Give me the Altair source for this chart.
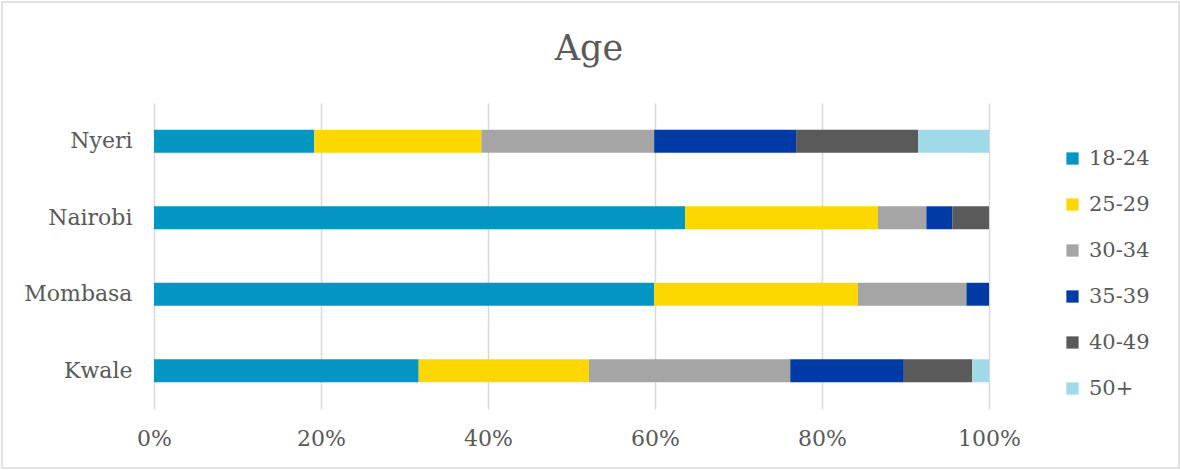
import altair as alt
import pandas as pd

regions = ["Nyeri", "Nairobi", "Mombasa", "Kwale"]
age_groups = ["18-24", "25-29", "30-34", "35-39", "40-49", "50+"]
colors = ["#0396C3", "#FDD800", "#A5A5A5", "#003AA5", "#5A5A5A", "#A0DAE8"]

nyeri = [19.2, 20.0, 20.7, 17.0, 14.6, 8.5]
nairobi = [63.6, 23.1, 5.8, 3.1, 4.4, 0.0]
mombasa = [59.9, 24.4, 13.0, 2.7, 0.0, 0.0]
kwale = [31.7, 20.4, 24.1, 13.6, 8.2, 2.0]

title_text = "Age"

series = {"Nyeri": nyeri, "Nairobi": nairobi, "Mombasa": mombasa, "Kwale": kwale}
rows = []
for r in regions:
    for i, (g, v) in enumerate(zip(age_groups, series[r])):
        rows.append({"region": r, "age": g, "value": v, "order": i})
df = pd.DataFrame(rows)

FONT = "DejaVu Serif"
TXT = "#595959"

bars = alt.Chart(df).mark_bar().encode(
    y=alt.Y("region:N", sort=regions, title=None,
            scale=alt.Scale(paddingInner=0.7, paddingOuter=0.35),
            axis=alt.Axis(labelFont=FONT, labelFontSize=22, labelColor=TXT,
                          labelPadding=22, ticks=False, domain=False, grid=False)),
    x=alt.X("value:Q", stack="normalize", title=None,
            scale=alt.Scale(domain=[0, 1], nice=False),
            axis=alt.Axis(format="%", values=[0, 0.2, 0.4, 0.6, 0.8, 1.0],
                          labelFont=FONT, labelFontSize=22, labelColor=TXT,
                          labelFlush=False,
                          labelPadding=19, ticks=False, domain=False,
                          grid=True, gridColor="#D9D9D9", gridWidth=1.5)),
    color=alt.Color("age:N", sort=age_groups, title=None,
                    scale=alt.Scale(domain=age_groups, range=colors),
                    legend=alt.Legend(orient="none", legendX=908, legendY=45,
                                      symbolType="square", symbolSize=150,
                                      symbolStrokeWidth=0, labelFont=FONT,
                                      labelFontSize=21, labelColor=TXT,
                                      labelOffset=6, rowPadding=24)),
    order=alt.Order("order:Q"),
)

title = alt.Chart(alt.Data(values=[{"t": title_text}])).mark_text(
    font=FONT, fontSize=35, color=TXT, align="center", baseline="alphabetic"
).encode(text="t:N", x=alt.value(435), y=alt.value(-43))

border = alt.Chart(alt.Data(values=[{}])).mark_rect(
    fill=None, stroke="#D9D9D9", strokeWidth=1.5
).encode(x=alt.value(-152), x2=alt.value(1025), y=alt.value(-101), y2=alt.value(365))

chart = alt.layer(border, bars, title).properties(
    width=835, height=306,
    padding={"left": 154, "top": 103, "right": 191, "bottom": 61},
    autosize=alt.AutoSizeParams(type="none"),
).configure(background="white").configure_view(stroke=None)

chart.save("out.html", embed_options={"renderer": "svg", "actions": False})
